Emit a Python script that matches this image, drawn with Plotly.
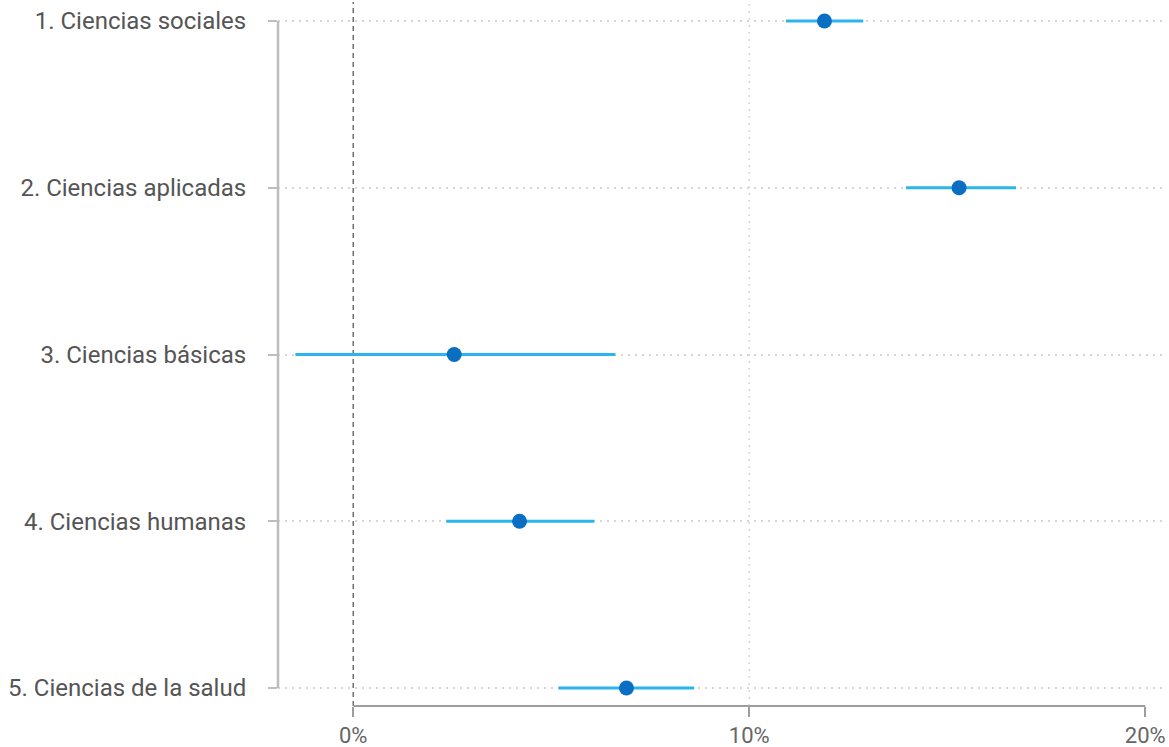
import plotly.graph_objects as go

# Estimated effect per field of study, with lower / upper bounds (percent)
categorias = [
    "1. Ciencias sociales",
    "2. Ciencias aplicadas",
    "3. Ciencias básicas",
    "4. Ciencias humanas",
    "5. Ciencias de la salud",
]
estimacion = [11.9, 15.3, 2.55, 4.2, 6.9]
limite_inf = [10.93, 13.96, -1.46, 2.35, 5.18]
limite_sup = [12.88, 16.74, 6.62, 6.09, 8.61]

x_ticks = [0, 10, 20]
x_tick_labels = ["0%", "10%", "20%"]

posiciones = list(range(1, len(categorias) + 1))

fig = go.Figure()

fig.add_trace(go.Scatter(
    x=estimacion,
    y=posiciones,
    mode="markers",
    marker=dict(color="#0a6fc2", size=15),
    error_x=dict(
        type="data",
        symmetric=False,
        array=[s - e for s, e in zip(limite_sup, estimacion)],
        arrayminus=[e - i for e, i in zip(estimacion, limite_inf)],
        color="#2bb5ee",
        thickness=3,
        width=0,
    ),
    showlegend=False,
    hoverinfo="skip",
))

# Vertical dotted guide at 10% only; dashed reference line at zero
for t in x_ticks[1:-1]:
    fig.add_shape(type="line", xref="x", yref="paper", x0=t, x1=t, y0=0, y1=1,
                  line=dict(color="#d6d6d6", width=1.5, dash="2px,5px"), layer="below")
fig.add_shape(type="line", xref="x", yref="paper", x0=x_ticks[0], x1=x_ticks[0], y0=0, y1=0.997,
              line=dict(color="#707070", width=1.5, dash="5px,4px"), layer="below")

# Axis lines drawn only between the first and last breaks
fig.add_shape(type="line", xref="paper", yref="y", x0=0, x1=0,
              y0=posiciones[0], y1=posiciones[-1],
              line=dict(color="#bdbdbd", width=2.5))
fig.add_shape(type="line", xref="x", yref="paper", x0=x_ticks[0], x1=x_ticks[-1],
              y0=0, y1=0, line=dict(color="#9e9e9e", width=2))

fig.update_layout(
    width=1169,
    height=747,
    margin=dict(l=278, r=4, t=0, b=41),
    plot_bgcolor="white",
    paper_bgcolor="white",
    font=dict(family="Roboto", color="#555555"),
)

fig.update_xaxes(
    range=[-1.9, 20.5],
    tickvals=x_ticks,
    ticktext=x_tick_labels,
    ticks="outside",
    ticklen=10,
    tickwidth=2,
    tickcolor="#9e9e9e",
    showgrid=False,
    zeroline=False,
    showline=False,
    tickfont=dict(size=22, color="#666666"),
)

fig.update_yaxes(
    range=[5.108, 0.874],
    tickvals=posiciones,
    ticktext=categorias,
    ticks="outside",
    ticklen=9,
    tickwidth=2,
    tickcolor="#bdbdbd",
    showgrid=True,
    gridcolor="#d6d6d6",
    gridwidth=1.5,
    griddash="2px,5px",
    zeroline=False,
    showline=False,
    ticklabelstandoff=17,
    tickfont=dict(size=24, color="#555555"),
)

fig.write_html("out.html")
